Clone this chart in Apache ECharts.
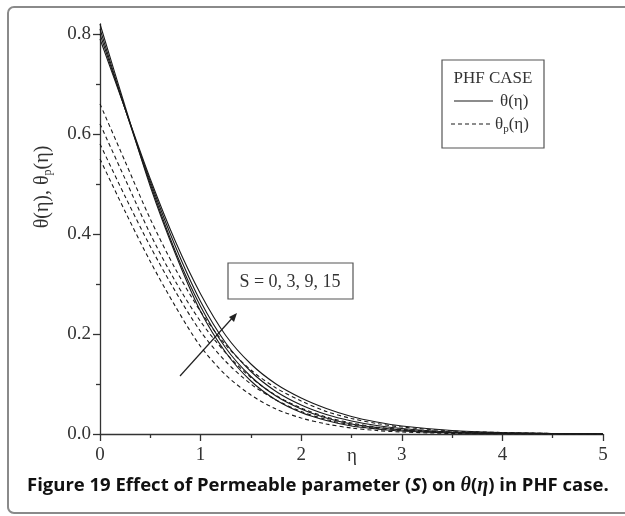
<!DOCTYPE html>
<html>
<head>
<meta charset="utf-8">
<script src="https://cdn.jsdelivr.net/npm/echarts@6/dist/echarts.min.js"></script>
<style>
  html, body { margin: 0; padding: 0; background: #fff; }
  #wrap { position: relative; width: 625px; height: 516px; overflow: hidden; }
  #frame {
    position: absolute; left: 7px; top: 6px; width: 700px; height: 508px;
    border: 2px solid #8a8a8a; border-radius: 7px; box-sizing: border-box;
  }
  #chart { position: absolute; left: 0; top: 0; width: 625px; height: 516px; }
  #caption {
    position: absolute; left: 27px; top: 471px; white-space: nowrap;
    font-family: "Open Sans", sans-serif; font-weight: bold; font-size: 18.5px; color: #111;
  }
  #caption .m { font-family: "Liberation Serif", serif; font-style: italic; font-size: 20px; }
</style>
</head>
<body>
<div id="wrap">
  <div id="frame"></div>
  <div id="chart"></div>
  <div id="caption">Figure 19 Effect of Permeable parameter (<i>S</i>) on <span class="m">θ</span>(<span class="m">η</span>) in PHF case.</div>
</div>
<script>
// eta sample points
const eta = [0, 0.25, 0.5, 0.75, 1, 1.25, 1.5, 1.75, 2, 2.25, 2.5, 2.75, 3, 3.5, 4, 4.5, 5];

// theta(eta), solid lines, S = 0, 3, 9, 15
const thetaS0  = [0.82, 0.655, 0.495, 0.36, 0.245, 0.163, 0.106, 0.068, 0.043, 0.027, 0.016, 0.01, 0.006, 0.002, 0.001, 0, 0];
const thetaS3  = [0.81, 0.65, 0.50, 0.365, 0.255, 0.172, 0.115, 0.076, 0.05, 0.032, 0.02, 0.013, 0.008, 0.003, 0.001, 0, 0];
const thetaS9  = [0.80, 0.65, 0.505, 0.375, 0.265, 0.182, 0.125, 0.085, 0.058, 0.039, 0.026, 0.017, 0.011, 0.004, 0.002, 0.001, 0];
const thetaS15 = [0.79, 0.65, 0.51, 0.385, 0.28, 0.197, 0.14, 0.10, 0.072, 0.051, 0.035, 0.024, 0.016, 0.007, 0.003, 0.001, 0];

// theta_p(eta), dashed lines, S = 0, 3, 9, 15
const thetaPS0  = [0.55, 0.445, 0.345, 0.255, 0.175, 0.118, 0.078, 0.05, 0.032, 0.02, 0.012, 0.007, 0.004, 0.001, 0, 0, 0];
const thetaPS3  = [0.58, 0.475, 0.375, 0.285, 0.205, 0.145, 0.10, 0.068, 0.045, 0.029, 0.018, 0.011, 0.007, 0.003, 0.001, 0, 0];
const thetaPS9  = [0.62, 0.51, 0.40, 0.305, 0.225, 0.162, 0.113, 0.077, 0.052, 0.034, 0.022, 0.014, 0.009, 0.004, 0.002, 0.001, 0];
const thetaPS15 = [0.66, 0.545, 0.43, 0.33, 0.245, 0.178, 0.128, 0.092, 0.066, 0.045, 0.031, 0.021, 0.014, 0.006, 0.003, 0.001, 0];

const xTicks = [0, 1, 2, 3, 4, 5];
const yTicks = [0, 0.2, 0.4, 0.6, 0.8];
const yMinorTicks = [0.1, 0.3, 0.5, 0.7];

const serif = 'Liberation Serif';
const axisColor = '#333';

function pairs(vals) {
  return eta.map((e, i) => [e, vals[i]]);
}

function curve(vals, dashed) {
  return {
    type: 'line',
    data: pairs(vals),
    showSymbol: false,
    smooth: 0.3,
    silent: true,
    lineStyle: { color: '#1a1a1a', width: 1.1, type: dashed ? [4, 3] : 'solid' }
  };
}

const chart = echarts.init(document.getElementById('chart'), null, { renderer: 'canvas' });

chart.setOption({
  animation: false,
  backgroundColor: 'transparent',
  grid: { left: 100, right: 22, top: 24, bottom: 82 },
  xAxis: {
    type: 'value',
    min: 0, max: 5, interval: 1,
    splitLine: { show: false },
    axisLine: { lineStyle: { color: axisColor, width: 1.3 } },
    axisTick: { show: true, length: 7, lineStyle: { color: axisColor, width: 1.3 } },
    minorTick: { show: true, splitNumber: 2, length: 4, lineStyle: { color: axisColor, width: 1.3 } },
    axisLabel: {
      margin: 12, fontFamily: serif, fontSize: 19, color: axisColor,
      customValues: xTicks
    }
  },
  yAxis: [{
    type: 'value',
    min: 0, max: 0.82, interval: 0.2,
    splitLine: { show: false },
    axisLine: { show: true, lineStyle: { color: axisColor, width: 1.3 } },
    axisTick: { show: true, length: 7, customValues: yTicks, lineStyle: { color: axisColor, width: 1.3 } },
    axisLabel: {
      margin: 9, fontFamily: serif, fontSize: 19, color: axisColor,
      customValues: yTicks,
      formatter: v => v.toFixed(1)
    }
  }, {
    // second axis only carries the short minor ticks
    type: 'value',
    position: 'left',
    min: 0, max: 0.82,
    splitLine: { show: false },
    axisLine: { show: true, lineStyle: { color: 'rgba(0,0,0,0)' } },
    axisTick: { show: true, length: 4, customValues: yMinorTicks, lineStyle: { color: axisColor, width: 1.3 } },
    axisLabel: { show: true, color: 'rgba(0,0,0,0)', customValues: yMinorTicks, formatter: () => '' }
  }],
  series: [
    curve(thetaS0, false), curve(thetaS3, false), curve(thetaS9, false), curve(thetaS15, false),
    curve(thetaPS0, true), curve(thetaPS3, true), curve(thetaPS9, true), curve(thetaPS15, true)
  ],
  graphic: [
    // x axis title
    { type: 'text', x: 352, y: 456, style: { text: 'η', fontFamily: serif, fontSize: 19, fill: axisColor, align: 'center', verticalAlign: 'middle' } },
    // y axis title
    {
      type: 'text', x: 43, y: 187, rotation: Math.PI / 2,
      style: {
        text: '{a|θ(η), θ}{s|p}{a|(η)}',
        align: 'center', verticalAlign: 'middle',
        rich: {
          a: { fontFamily: serif, fontSize: 20, fill: axisColor },
          s: { fontFamily: serif, fontSize: 12, fill: axisColor, padding: [10, 0, 0, 0] }
        }
      }
    },
    // legend box
    { type: 'rect', shape: { x: 442, y: 60, width: 102, height: 88 }, style: { fill: '#fff', stroke: '#555', lineWidth: 1.2 } },
    { type: 'text', x: 493, y: 79, style: { text: 'PHF CASE', fontFamily: serif, fontSize: 17, fill: axisColor, align: 'center', verticalAlign: 'middle' } },
    { type: 'line', shape: { x1: 454, y1: 101, x2: 493, y2: 101 }, style: { stroke: '#1a1a1a', lineWidth: 1.1 } },
    { type: 'text', x: 500, y: 102, style: { text: 'θ(η)', fontFamily: serif, fontSize: 17, fill: axisColor, verticalAlign: 'middle' } },
    { type: 'line', shape: { x1: 451, y1: 124, x2: 493, y2: 124 }, style: { stroke: '#1a1a1a', lineWidth: 1.1, lineDash: [4, 3] } },
    {
      type: 'text', x: 495, y: 125,
      style: {
        text: '{a|θ}{s|p}{a|(η)}', verticalAlign: 'middle',
        rich: {
          a: { fontFamily: serif, fontSize: 17, fill: axisColor },
          s: { fontFamily: serif, fontSize: 11, fill: axisColor, padding: [9, 0, 0, 0] }
        }
      }
    },
    // S annotation
    { type: 'rect', shape: { x: 228, y: 263, width: 125, height: 36 }, style: { fill: '#fff', stroke: '#555', lineWidth: 1.2 } },
    { type: 'text', x: 290, y: 282, style: { text: 'S = 0, 3, 9, 15', fontFamily: serif, fontSize: 18, fill: axisColor, align: 'center', verticalAlign: 'middle' } },
    // arrow
    { type: 'line', shape: { x1: 180, y1: 376, x2: 235, y2: 315 }, style: { stroke: '#222', lineWidth: 1.2 } },
    { type: 'polygon', shape: { points: [[237, 313], [229, 317], [234, 322]] }, style: { fill: '#222' } }
  ]
});
</script>
</body>
</html>
